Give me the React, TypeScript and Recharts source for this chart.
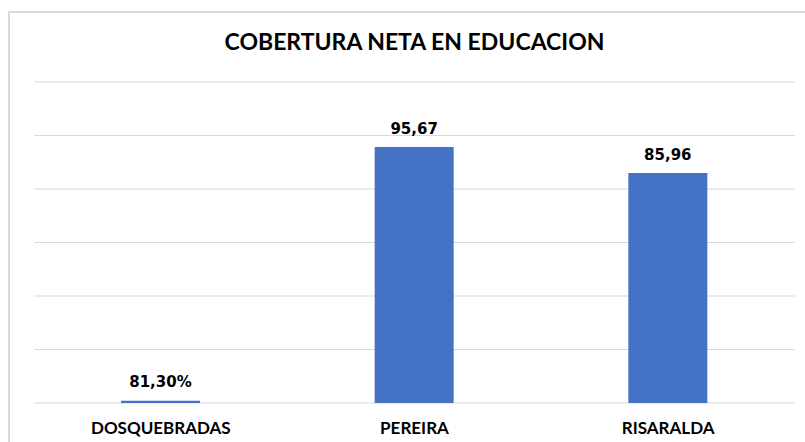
import React from "react";
import { BarChart, Bar, XAxis, YAxis, CartesianGrid, LabelList } from "recharts";

const categories = ["DOSQUEBRADAS", "PEREIRA", "RISARALDA"];
const values = [0.813, 95.67, 85.96];
const valueLabels = ["81,30%", "95,67", "85,96"];
const yTicks = [0, 20, 40, 60, 80, 100, 120];
const title = "COBERTURA NETA EN EDUCACION";

const data = categories.map((c, i) => ({ name: c, value: values[i], label: valueLabels[i] }));

const CatTick = (props: any) => {
  const { x, y, payload } = props;
  return (
    <text
      x={x}
      y={y + 23}
      textAnchor="middle"
      fontFamily="Lato"
      fontWeight={700}
      fontSize={17}
      fill="#000"
    >
      {payload.value}
    </text>
  );
};

export default function App() {
  return (
    <div style={{ position: "absolute", left: 0, top: 0, width: 805, height: 442, overflow: "hidden", background: "#fff" }}>
      <div
        style={{
          position: "absolute",
          left: 8,
          top: 11,
          width: 830,
          height: 460,
          border: "2px solid #d9d9d9",
          boxSizing: "border-box",
        }}
      />
      <div
        style={{
          position: "absolute",
          left: 34,
          width: 761,
          top: 27,
          textAlign: "center",
          fontFamily: "Lato",
          fontWeight: 700,
          fontSize: 23,
          color: "#000",
          lineHeight: "28px",
          whiteSpace: "nowrap",
        }}
      >
        {title}
      </div>
      <div style={{ position: "absolute", left: 0, top: 0 }}>
        <BarChart
          width={805}
          height={442}
          data={data}
          margin={{ top: 82, right: 10, bottom: 9, left: 34 }}
        >
          <CartesianGrid vertical={false} stroke="#d9d9d9" strokeWidth={1} />
          <YAxis hide domain={[0, 120]} ticks={yTicks} width={0} />
          <XAxis dataKey="name" height={30} axisLine={false} tickLine={false} tick={<CatTick />} interval={0} />
          <Bar dataKey="value" fill="#4472C4" barSize={79} isAnimationActive={false}>
            <LabelList
              dataKey="label"
              position="top"
              offset={13.5}
              fontFamily="DejaVu Sans"
              fontWeight={700}
              fontSize={15}
              fill="#000"
            />
          </Bar>
        </BarChart>
      </div>
    </div>
  );
}
